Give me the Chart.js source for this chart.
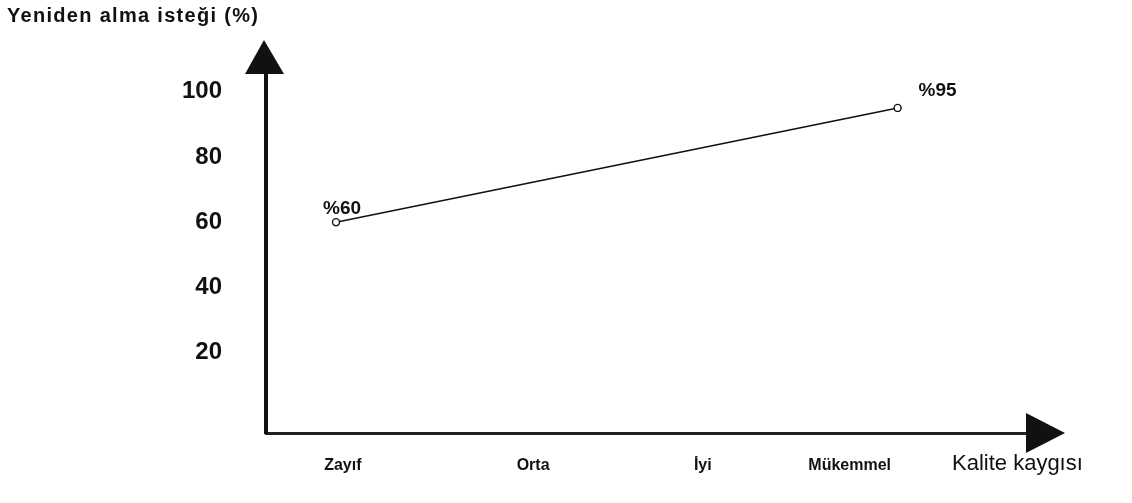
<!DOCTYPE html>
<html lang="tr">
<head>
<meta charset="utf-8">
<title>Yeniden alma isteği</title>
<script src="https://cdn.jsdelivr.net/npm/chart.js@4/dist/chart.umd.min.js"></script>
<style>
  html, body { margin: 0; padding: 0; background: #fff; }
  #wrap { width: 1132px; height: 503px; position: relative; }
</style>
</head>
<body>
<div id="wrap"><canvas id="c"></canvas></div>
<script>
// Quality levels on the horizontal axis and where each one sits on the scale
const categories = ['Zayıf', 'Orta', 'İyi', 'Mükemmel'];
const categoryPos = [10.1, 35.1, 57.4, 76.7];

// Repurchase willingness (%) at the two ends of the line
const lineX = [9.2, 83.0];
const willingness = [60, 95];
const valueLabels = ['%60', '%95'];

// Vertical axis tick values
const yTicks = [20, 40, 60, 80, 100];

const yTitle = 'Yeniden alma isteği (%)';
const xTitle = 'Kalite kaygısı';

const FONT = '"Liberation Sans", Arial, Helvetica, sans-serif';
const INK = '#111';

// Arrowheads, axis titles and point labels
const decorations = {
  id: 'decorations',
  afterDraw(chart) {
    const { ctx, chartArea: a } = chart;
    const xs = chart.scales.x, ys = chart.scales.y;
    ctx.save();
    ctx.fillStyle = INK;

    // arrow on top of the vertical axis
    ctx.beginPath();
    ctx.moveTo(a.left - 2, a.top - 33);
    ctx.lineTo(a.left + 18, a.top + 1);
    ctx.lineTo(a.left - 21, a.top + 1);
    ctx.closePath();
    ctx.fill();

    // arrow at the end of the horizontal axis
    ctx.beginPath();
    ctx.moveTo(a.right + 38, a.bottom);
    ctx.lineTo(a.right - 1, a.bottom - 20);
    ctx.lineTo(a.right - 1, a.bottom + 20);
    ctx.closePath();
    ctx.fill();

    // axis titles
    ctx.textBaseline = 'top';
    ctx.textAlign = 'left';
    ctx.font = 'bold 20px ' + FONT;
    ctx.letterSpacing = '1.3px';
    ctx.fillText(yTitle, 7, 6);
    ctx.letterSpacing = '0px';
    ctx.font = '22px ' + FONT;
    ctx.textBaseline = 'middle';
    ctx.fillText(xTitle, a.right - 75, 464);

    // value labels next to the points
    const offsets = [[6, -13], [40, -17]];
    ctx.font = 'bold 19px ' + FONT;
    ctx.textAlign = 'center';
    ctx.textBaseline = 'middle';
    willingness.forEach((v, i) => {
      const px = xs.getPixelForValue(lineX[i]);
      const py = ys.getPixelForValue(v);
      ctx.fillText(valueLabels[i], px + offsets[i][0], py + offsets[i][1]);
    });
    ctx.restore();
  }
};

new Chart(document.getElementById('c'), {
  type: 'line',
  data: {
    datasets: [{
      data: lineX.map((x, i) => ({ x, y: willingness[i] })),
      borderColor: INK,
      borderWidth: 1.5,
      pointRadius: 3.5,
      pointBorderWidth: 1.4,
      pointBackgroundColor: '#fff',
      pointBorderColor: INK,
      tension: 0,
      fill: false
    }]
  },
  options: {
    responsive: true,
    maintainAspectRatio: false,
    animation: false,
    layout: { padding: { top: 73, right: 105, bottom: 0, left: 0 } },
    plugins: { legend: { display: false }, tooltip: { enabled: false } },
    scales: {
      x: {
        type: 'linear',
        min: 0,
        max: 100,
        grid: { display: false, drawTicks: false },
        border: { display: true, color: '#222', width: 3 },
        afterBuildTicks(scale) { scale.ticks = categoryPos.map(v => ({ value: v })); },
        afterFit(scale) { scale.height = 70; },
        ticks: {
          autoSkip: false,
          maxRotation: 0,
          padding: 23,
          color: INK,
          font: { family: FONT, size: 16, weight: 'bold' },
          callback: (v) => categories[categoryPos.indexOf(v)]
        }
      },
      y: {
        type: 'linear',
        min: -4.6,
        max: 105.7,
        grid: { display: false, drawTicks: false },
        border: { display: true, color: INK, width: 4 },
        afterBuildTicks(scale) { scale.ticks = yTicks.map(v => ({ value: v })); },
        afterFit(scale) { scale.width = 266; },
        ticks: {
          padding: 44,
          color: INK,
          font: { family: FONT, size: 24, weight: 'bold' }
        }
      }
    }
  },
  plugins: [decorations]
});
</script>
</body>
</html>
